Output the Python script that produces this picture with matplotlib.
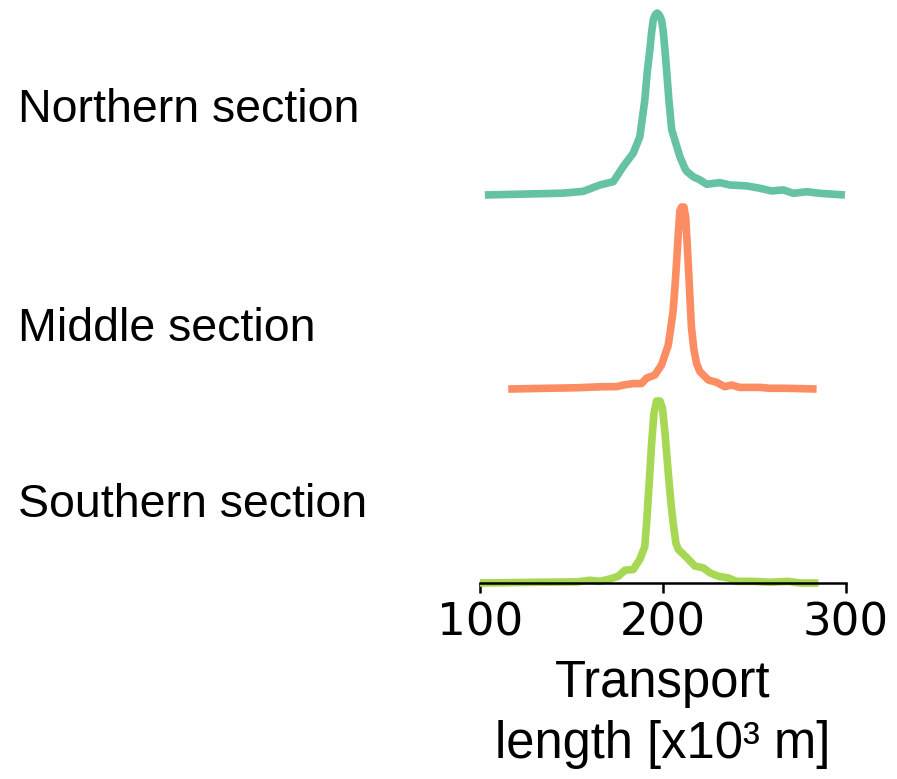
import numpy as np
import matplotlib
matplotlib.use("Agg")
import matplotlib.pyplot as plt

# Transport-length density profiles (x in 10^3 m, relative density)
north_x = [102.7, 145.5, 156.5, 165.6, 172.9, 178.3, 183.8, 187.4, 190.1, 191.4,
           192.9, 193.8, 194.7, 195.8, 196.9, 198.0, 199.3, 200.2, 201.1, 202.0,
           203.3, 204.8, 206.6, 209.3, 212.0, 213.0, 216.6, 220.2, 223.9, 231.1,
           236.6, 245.7, 253.0, 259.4, 265.8, 271.3, 278.6, 285.8, 299.5]
north_y = [0.0, 0.01, 0.02, 0.055, 0.073, 0.156, 0.23, 0.32, 0.52, 0.67,
           0.80, 0.89, 0.96, 0.99, 1.0, 0.99, 0.96, 0.90, 0.80, 0.69,
           0.52, 0.36, 0.30, 0.21, 0.147, 0.13, 0.10, 0.083, 0.059, 0.068,
           0.055, 0.05, 0.037, 0.022, 0.028, 0.009, 0.018, 0.009, 0.0]

middle_x = [115.5, 136.4, 152.8, 167.4, 174.6, 178.3, 183.8, 188.3, 191.1, 195.6,
            199.3, 202.9, 203.8, 205.6, 206.6, 207.5, 208.4, 209.3, 210.2, 211.5,
            212.5, 213.8, 214.7, 215.6, 216.9, 218.4, 220.2, 224.8, 229.3, 233.8,
            237.5, 242.1, 253.0, 258.5, 267.6, 284.0]
middle_y = [0.0, 0.004, 0.007, 0.013, 0.013, 0.022, 0.03, 0.03, 0.06, 0.077,
            0.133, 0.24, 0.30, 0.43, 0.56, 0.70, 0.85, 0.98, 1.0, 1.0,
            0.94, 0.70, 0.52, 0.34, 0.22, 0.14, 0.096, 0.05, 0.037, 0.013,
            0.022, 0.009, 0.009, 0.004, 0.004, 0.0]

south_x = [100.0, 130.9, 152.8, 160.1, 165.6, 171.0, 175.6, 179.2, 183.8, 187.4,
           190.1, 191.1, 192.9, 193.8, 195.1, 196.5, 198.4, 199.8, 201.1, 202.9,
           204.4, 205.6, 207.1, 208.4, 213.0, 217.5, 222.1, 225.7, 230.3, 235.7,
           240.3, 249.4, 258.5, 268.5, 274.9, 285.0]
south_y = [0.0, 0.004, 0.006, 0.015, 0.009, 0.022, 0.037, 0.07, 0.074, 0.13,
           0.20, 0.33, 0.61, 0.76, 0.93, 1.0, 1.0, 0.96, 0.83, 0.61,
           0.44, 0.33, 0.22, 0.185, 0.14, 0.093, 0.083, 0.056, 0.037, 0.028,
           0.009, 0.009, 0.004, 0.009, 0.0, 0.0]

labels = ["Northern section", "Middle section", "Southern section"]
colors = ["#66c2a5", "#fc8d62", "#a6d854"]
series = [(north_x, north_y), (middle_x, middle_y), (south_x, south_y)]

SANS = ["Liberation Sans", "DejaVu Sans"]

fig = plt.figure(figsize=(8.97, 7.79), dpi=100)

left, width, height = 0.535, 0.408, 0.2336
bottoms = [0.7497, 0.5006, 0.2516]
label_base = [0.8438, 0.5626, 0.3367]

for i, ((xs, ys), lab, col) in enumerate(zip(series, labels, colors)):
    ax = fig.add_axes([left, bottoms[i], width, height])
    ax.plot(xs, ys, color=col, lw=5.5, solid_capstyle="butt",
            solid_joinstyle="round", clip_on=False)
    ax.set_xlim(100, 300)
    ax.set_ylim(0, 1)
    for s in ("top", "right", "left"):
        ax.spines[s].set_visible(False)
    ax.set_yticks([])
    if i < 2:
        ax.spines["bottom"].set_visible(False)
        ax.set_xticks([])
    else:
        ax.spines["bottom"].set_linewidth(1.8)
        ax.set_xticks([100, 200, 300])
        ax.tick_params(axis="x", length=7, width=1.8, labelsize=32.5, pad=6)
        ax.set_xlabel("Transport\nlength [x10³ m]", fontsize=36.5,
                      family=SANS, linespacing=1.3, labelpad=11)
    ax.patch.set_alpha(0)
    fig.text(0.02, label_base[i], lab, fontsize=33.5, family=SANS,
             ha="left", va="baseline")

fig.savefig("out.png", dpi=100)
